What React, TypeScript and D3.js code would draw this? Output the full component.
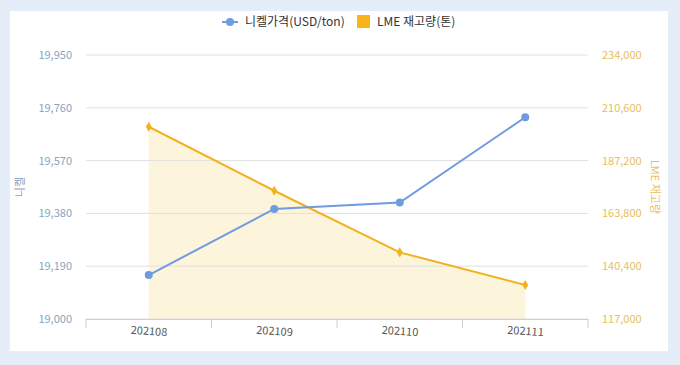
import React from "react";
import * as d3 from "d3";

const categories = ["202108", "202109", "202110", "202111"];
const nickelPrice = [19158, 19396, 19419, 19726];
const lmeStock = [202200, 173840, 146540, 132060];
const leftTicks = [19000, 19190, 19380, 19570, 19760, 19950];
const rightTicks = [117000, 140400, 163800, 187200, 210600, 234000];

const W = 680, H = 365;
const plot = { left: 86, right: 588, top: 55, bottom: 319 };
const FONT = "'Noto Sans CJK KR', 'Noto Sans', sans-serif";

export default function App() {
  const x = d3.scaleBand<string>().domain(categories).range([plot.left, plot.right]);
  const yL = d3.scaleLinear().domain([19000, 19950]).range([plot.bottom, plot.top]);
  const yR = d3.scaleLinear().domain([117000, 234000]).range([plot.bottom, plot.top]);
  const cx = (c: string) => (x(c) as number) + x.bandwidth() / 2;

  const nickelLine = d3.line<number>().x((_, i) => cx(categories[i])).y((d) => yL(d))(nickelPrice) as string;
  const stockLine = d3.line<number>().x((_, i) => cx(categories[i])).y((d) => yR(d))(lmeStock) as string;
  const stockArea = d3
    .area<number>()
    .x((_, i) => cx(categories[i]))
    .y0(plot.bottom)
    .y1((d) => yR(d))(lmeStock) as string;
  const fmt = d3.format(",");

  return (
    <div style={{ position: "absolute", left: 0, top: 0 }}>
      <svg width={W} height={H} style={{ display: "block" }}>
        <rect x={0} y={0} width={W} height={H} fill="#e5eef8" />
        <rect x={10} y={11} width={658} height={340} fill="#ffffff" />
        <path d={stockArea} fill="#fdf4dc" />
        {leftTicks.map((t) => (
          <line key={t} x1={plot.left} x2={plot.right} y1={yL(t)} y2={yL(t)} stroke="#e0e0e0" strokeWidth={1} />
        ))}
        {/* x axis */}
        <line x1={plot.left} x2={plot.right} y1={plot.bottom + 0.5} y2={plot.bottom + 0.5} stroke="#ccd0d6" />
        {[...categories.map((c) => x(c) as number), plot.right].map((tx, i) => (
          <line key={i} x1={tx} x2={tx} y1={plot.bottom} y2={plot.bottom + 9} stroke="#ccd0d6" />
        ))}
        {categories.map((c) => (
          <text
            key={c}
            transform={`translate(${cx(c)},${plot.bottom + 16}) rotate(4)`}
            textAnchor="middle"
            fontSize={11}
            fill="#555"
            fontFamily={FONT}
          >
            {c}
          </text>
        ))}
        {leftTicks.map((t) => (
          <text key={t} x={72} y={yL(t) + 4} textAnchor="end" fontSize={11} fill="#8aa3c2" fontFamily={FONT}>
            {fmt(t)}
          </text>
        ))}
        {rightTicks.map((t) => (
          <text key={t} x={602} y={yR(t) + 4} textAnchor="start" fontSize={11} fill="#e6bf5e" fontFamily={FONT}>
            {fmt(t)}
          </text>
        ))}
        <text transform={`translate(24,${(plot.top + plot.bottom) / 2}) rotate(-90)`} textAnchor="middle" fontSize={11} fill="#8aa3c2" fontFamily={FONT}>
          니켈
        </text>
        <text transform={`translate(651,${(plot.top + plot.bottom) / 2}) rotate(90)`} textAnchor="middle" fontSize={11} fill="#e6bf5e" fontFamily={FONT}>
          LME 재고량
        </text>
        <path d={stockLine} fill="none" stroke="#f0b21e" strokeWidth={2} />
        {lmeStock.map((d, i) => (
          <path
            key={i}
            d={d3.symbol().type(d3.symbolDiamond).size(30)() as string}
            transform={`translate(${cx(categories[i])},${yR(d)})`}
            fill="#f0b21e"
          />
        ))}
        <path d={nickelLine} fill="none" stroke="#6f9be0" strokeWidth={2} />
        {nickelPrice.map((d, i) => (
          <circle key={i} cx={cx(categories[i])} cy={yL(d)} r={4} fill="#6f9be0" />
        ))}
        {/* legend */}
        <line x1={222} x2={238} y1={22} y2={22} stroke="#6f9be0" strokeWidth={2} />
        <circle cx={230} cy={22} r={4} fill="#6f9be0" />
        <text x={245} y={26} fontSize={12} fill="#333" fontFamily={FONT}>
          니켈가격(USD/ton)
        </text>
        <rect x={357} y={15} width={13} height={13} fill="#fbb417" />
        <text x={377} y={26} fontSize={12} fill="#333" fontFamily={FONT}>
          LME 재고량(톤)
        </text>
      </svg>
    </div>
  );
}
